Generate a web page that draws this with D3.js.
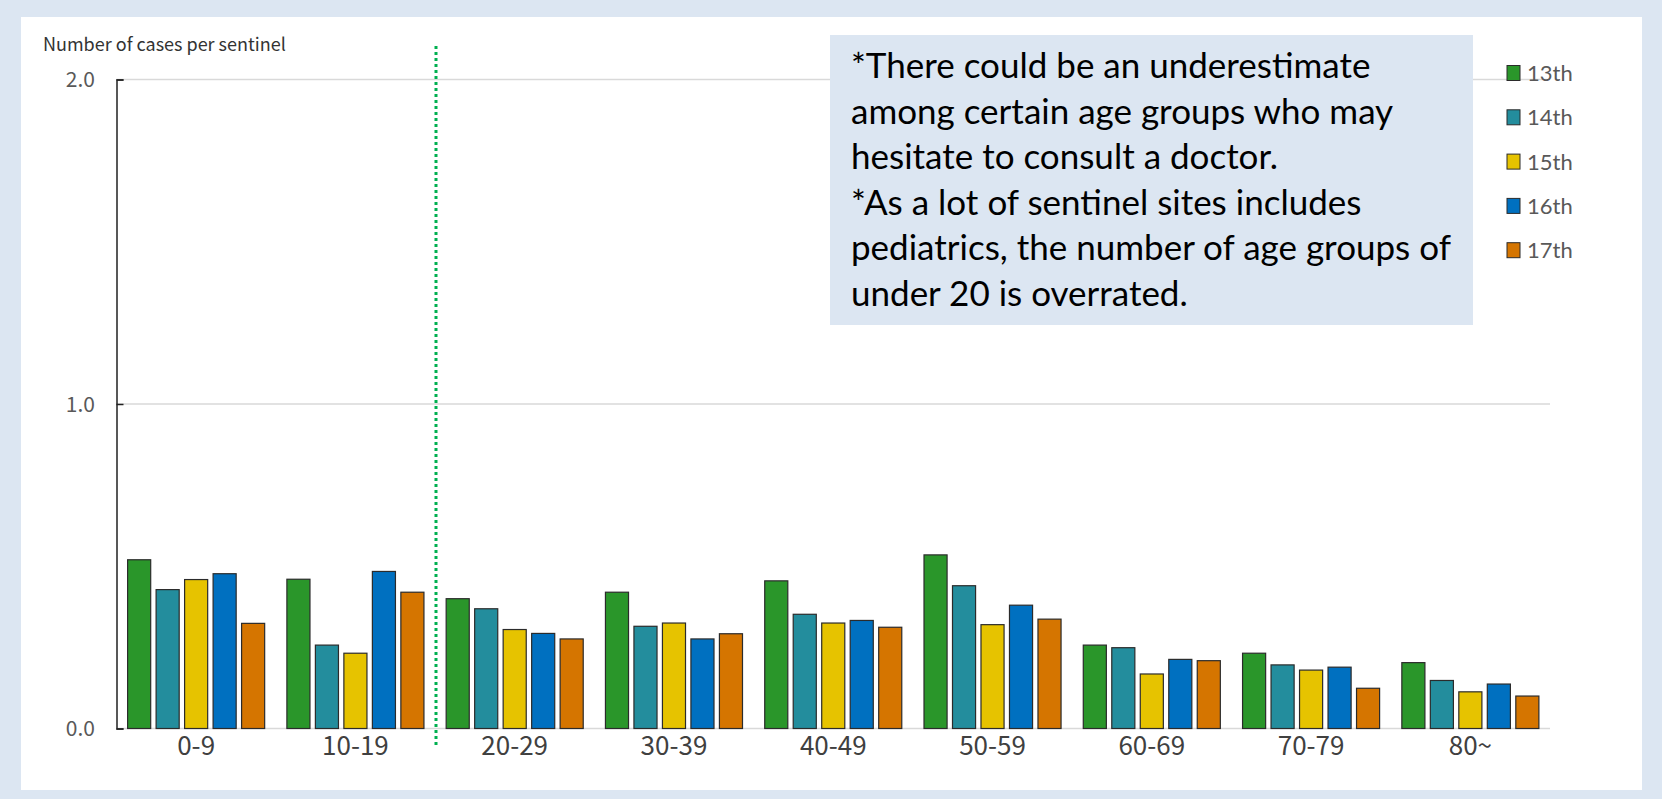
<!DOCTYPE html>
<html>
<head>
<meta charset="utf-8">
<script src="https://cdn.jsdelivr.net/npm/d3@7"></script>
<style>
  body { margin: 0; background: #dce6f2; }
  svg { display: block; }
</style>
</head>
<body>
<div id="chart"></div>
<script>
const ageGroups = ["0-9", "10-19", "20-29", "30-39", "40-49", "50-59", "60-69", "70-79", "80~"];
const waves = ["13th", "14th", "15th", "16th", "17th"];
const waveColors = ["#2a962a", "#238d9d", "#e6c300", "#0070c0", "#d57500"];
const yTicks = [0, 1, 2];

// values per wave, in ageGroups order
const v13 = [0.52, 0.46, 0.40, 0.42, 0.455, 0.535, 0.257, 0.232, 0.203];
const v14 = [0.428, 0.257, 0.369, 0.315, 0.352, 0.44, 0.249, 0.196, 0.148];
const v15 = [0.459, 0.232, 0.305, 0.325, 0.325, 0.32, 0.168, 0.18, 0.113];
const v16 = [0.477, 0.484, 0.293, 0.276, 0.333, 0.38, 0.213, 0.189, 0.137];
const v17 = [0.324, 0.42, 0.276, 0.292, 0.312, 0.337, 0.209, 0.124, 0.10];
const seriesValues = [v13, v14, v15, v16, v17];

const noteLines = [
  "*There could be an underestimate",
  "among certain age groups who may",
  "hesitate to consult a doctor.",
  "*As a lot of sentinel sites includes",
  "pediatrics, the number of age groups of",
  "under 20 is overrated."
];

const width = 1662, height = 799;

const svg = d3.select("#chart").append("svg")
  .attr("width", width)
  .attr("height", height);

// white panel
svg.append("rect")
  .attr("x", 21).attr("y", 17)
  .attr("width", 1621).attr("height", 773)
  .attr("fill", "#fff");

const x0 = d3.scaleBand()
  .domain(ageGroups)
  .range([116.5, 1550]);

const x1 = d3.scaleBand()
  .domain(waves)
  .range([0, x0.bandwidth()])
  .paddingInner(0.19)
  .paddingOuter(0.39);

const y = d3.scaleLinear()
  .domain([0, 2])
  .range([728.5, 79.5]);

// gridlines
svg.append("g")
  .selectAll("line")
  .data(yTicks)
  .enter()
  .append("line")
    .attr("x1", 116.5).attr("x2", 1550)
    .attr("y1", d => y(d)).attr("y2", d => y(d))
    .attr("stroke", "#d9d9d9")
    .attr("stroke-width", 1.5);

// y axis
const yAxis = svg.append("g")
  .attr("transform", "translate(116.5,0)")
  .call(d3.axisRight(y).tickValues(yTicks).tickSize(7).tickFormat(""));
yAxis.select(".domain").attr("stroke", "#222").attr("stroke-width", 1.5);
yAxis.selectAll(".tick line").attr("stroke", "#222").attr("stroke-width", 1.5);

svg.append("g")
  .selectAll("text")
  .data(yTicks)
  .enter()
  .append("text")
    .attr("x", 95)
    .attr("y", d => y(d))
    .attr("dy", "0.36em")
    .attr("text-anchor", "end")
    .attr("fill", "#595959")
    .style("font-family", "'Noto Sans CJK JP', 'Noto Sans', sans-serif")
    .style("font-size", "21px")
    .text(d => d.toFixed(1));

// axis title
svg.append("text")
  .attr("x", 43).attr("y", 51)
  .attr("fill", "#333")
  .style("font-family", "'Noto Sans CJK JP', 'Noto Sans', sans-serif")
  .style("font-size", "18px")
  .text("Number of cases per sentinel");

// bars
const groups = svg.append("g")
  .selectAll("g")
  .data(ageGroups)
  .enter()
  .append("g")
    .attr("transform", d => "translate(" + x0(d) + ",0)");

groups.selectAll("rect")
  .data((d, i) => waves.map((w, j) => ({wave: w, value: seriesValues[j][i], color: waveColors[j]})))
  .enter()
  .append("rect")
    .attr("x", d => x1(d.wave))
    .attr("y", d => y(d.value))
    .attr("width", x1.bandwidth())
    .attr("height", d => y(0) - y(d.value))
    .attr("fill", d => d.color)
    .attr("stroke", "#2b2b2b")
    .attr("stroke-width", 1.2);

// category labels
svg.append("g")
  .selectAll("text")
  .data(ageGroups)
  .enter()
  .append("text")
    .attr("x", d => x0(d) + x0.bandwidth() / 2)
    .attr("y", 755)
    .attr("text-anchor", "middle")
    .attr("fill", "#404040")
    .style("font-family", "'Noto Sans CJK JP', 'Noto Sans', sans-serif")
    .style("font-size", "26px")
    .text(d => d);

// green dotted divider
svg.append("line")
  .attr("x1", 436).attr("x2", 436)
  .attr("y1", 46).attr("y2", 745)
  .attr("stroke", "#00b050")
  .attr("stroke-width", 3)
  .attr("stroke-dasharray", "3,3");

// note box
svg.append("rect")
  .attr("x", 830).attr("y", 35)
  .attr("width", 643).attr("height", 290)
  .attr("fill", "#dce6f2");

svg.append("g")
  .selectAll("text")
  .data(noteLines)
  .enter()
  .append("text")
    .attr("x", 851)
    .attr("y", (d, i) => 78 + i * 45.6)
    .attr("fill", "#000")
    .style("font-family", "Lato, 'Open Sans', sans-serif")
    .style("font-size", "35px")
    .text(d => d);

// legend
const legend = svg.append("g")
  .selectAll("g")
  .data(waves)
  .enter()
  .append("g")
    .attr("transform", (d, i) => "translate(1507," + (73 + i * 44.3) + ")");

legend.append("rect")
  .attr("x", 0).attr("y", -7.5)
  .attr("width", 13).attr("height", 15)
  .attr("fill", (d, i) => waveColors[i])
  .attr("stroke", "#2b2b2b")
  .attr("stroke-width", 1);

legend.append("text")
  .attr("x", 20).attr("y", 0)
  .attr("dy", "0.36em")
  .attr("fill", "#595959")
  .style("font-family", "Lato, 'Open Sans', sans-serif")
  .style("font-size", "22px")
  .text(d => d);
</script>
</body>
</html>
